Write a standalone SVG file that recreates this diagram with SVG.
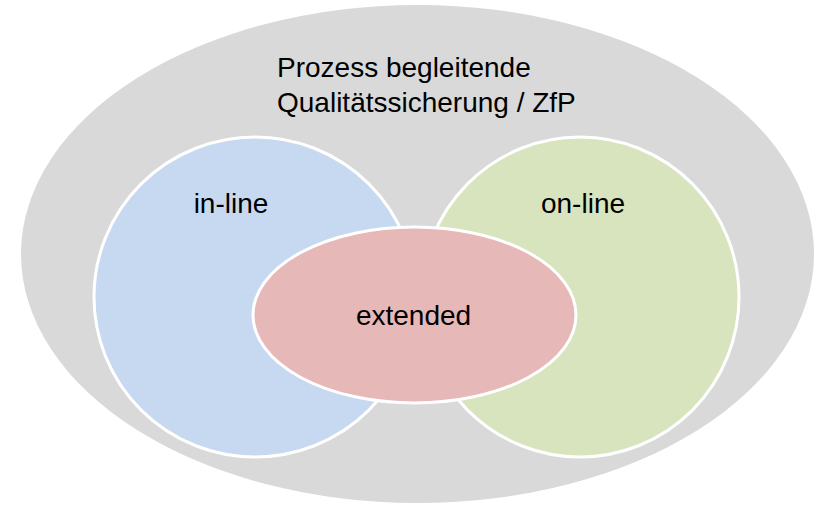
<svg xmlns="http://www.w3.org/2000/svg" width="817" height="505" viewBox="0 0 817 505">
  <style>
    .lbl { font-family: "Liberation Sans", Arial, sans-serif; font-size: 28px; fill: #000000; }
    .mid { text-anchor: middle; }
    .set { stroke: #ffffff; stroke-width: 3; }
  </style>
  <rect width="817" height="505" fill="#ffffff"/>
  <g id="outer">
    <ellipse cx="417.5" cy="254" rx="396.5" ry="249" fill="#d9d9d9"/>
    <text class="lbl" x="277" y="77">Prozess begleitende</text>
    <text class="lbl" x="277" y="112">Qualitätssicherung / ZfP</text>
  </g>
  <g id="inline">
    <ellipse class="set" cx="255" cy="297" rx="161" ry="160" fill="#c6d9f0"/>
    <text class="lbl mid" x="231" y="213">in-line</text>
  </g>
  <g id="online">
    <ellipse class="set" cx="580" cy="297" rx="159" ry="160" fill="#d7e4bd"/>
    <text class="lbl mid" x="583" y="213">on-line</text>
  </g>
  <g id="extended">
    <ellipse class="set" cx="414.5" cy="315" rx="161.5" ry="88" fill="#e6b8b7"/>
    <text class="lbl mid" x="413.5" y="325">extended</text>
  </g>
  <g id="connectors"/>
</svg>
